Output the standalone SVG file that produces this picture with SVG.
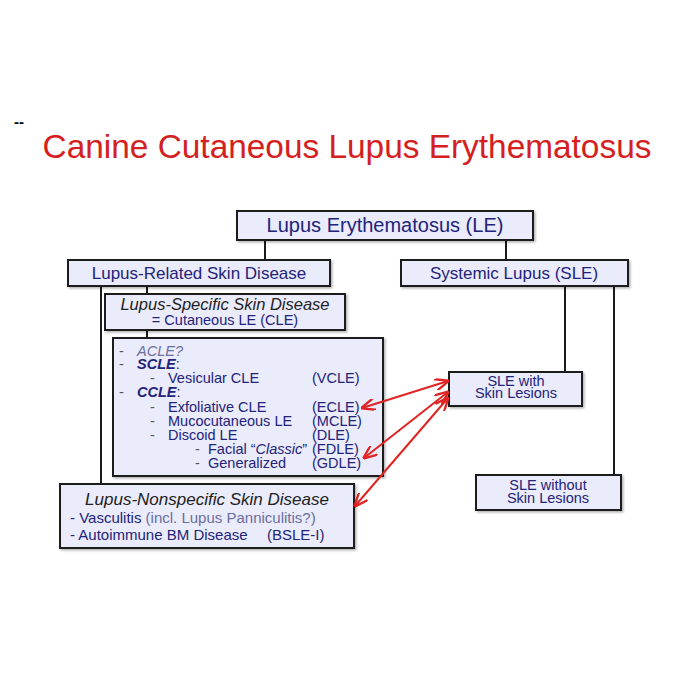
<svg xmlns="http://www.w3.org/2000/svg" width="700" height="700" viewBox="0 0 700 700">
<defs>
<style>
.box{fill:#eaebfb;stroke:#1a1a1a;stroke-width:2;filter:url(#sh)}
.ln{stroke:#1a1a1a;stroke-width:2;fill:none}
.ar{stroke:#e02424;stroke-width:2;fill:none;marker-start:url(#ah);marker-end:url(#ah)}
text{font-family:"Liberation Sans",Arial,sans-serif;fill:#23237a}
.c{text-anchor:middle}
.it{font-style:italic;fill:#222}
.d{fill:#555}
.g{fill:#6a6f9e}
</style>
<filter id="sh" x="-5%" y="-10%" width="115%" height="130%">
<feDropShadow dx="1.5" dy="1.5" stdDeviation="1" flood-color="#000" flood-opacity="0.3"/>
</filter>
<marker id="ah" viewBox="0 0 12 10" refX="11" refY="5" markerWidth="7" markerHeight="6" orient="auto-start-reverse" markerUnits="strokeWidth">
<path d="M0,0 L12,5 L0,10" fill="none" stroke="#e02424" stroke-width="2"/>
</marker>
</defs>
<rect width="700" height="700" fill="#fff"/>
<text x="14" y="127" style="font-size:15px;font-weight:bold;fill:#000">--</text>
<text x="347" y="158" class="c" style="font-size:33.4px;fill:#d42020">Canine Cutaneous Lupus Erythematosus</text>

<g id="tree-lines">
<path class="ln" d="M265,240 V260 M506,240 V260 M101,286 V484 M147,286 V294 M147,330 V338 M565,286 V372 M614,286 V475"/>
</g>

<g id="le">
<rect class="box" x="237" y="211" width="296" height="29"/>
<text x="385" y="232" class="c" style="font-size:20px">Lupus Erythematosus (LE)</text>
</g>
<g id="lrsd">
<rect class="box" x="68" y="260" width="262" height="26"/>
<text x="199" y="279" class="c" style="font-size:17px">Lupus-Related Skin Disease</text>
</g>
<g id="sle">
<rect class="box" x="401" y="260" width="227" height="26"/>
<text x="514" y="279" class="c" style="font-size:17px">Systemic Lupus (SLE)</text>
</g>
<g id="lssd">
<rect class="box" x="105" y="294" width="240" height="36"/>
<text x="225" y="310" class="c it" style="font-size:16.5px">Lupus-Specific Skin Disease</text>
<text x="225" y="325" class="c" style="font-size:14.5px">= Cutaneous LE (CLE)</text>
</g>
<g id="cle-list">
<rect class="box" x="113" y="338" width="270" height="138"/>
<g style="font-size:14.5px">
<text x="119" y="356" class="d">-</text><text x="137" y="356" class="g" font-style="italic">ACLE?</text>
<text x="119" y="369" class="d">-</text><text x="137" y="369" font-style="italic" font-weight="bold">SCLE<tspan font-weight="normal" font-style="normal">:</tspan></text>
<text x="150" y="383" class="d">-</text><text x="168" y="383">Vesicular CLE</text><text x="312" y="383">(VCLE)</text>
<text x="119" y="397" class="d">-</text><text x="137" y="397" font-style="italic" font-weight="bold">CCLE<tspan font-weight="normal" font-style="normal">:</tspan></text>
<text x="150" y="412" class="d">-</text><text x="168" y="412">Exfoliative CLE</text><text x="312" y="412">(ECLE)</text>
<text x="150" y="426" class="d">-</text><text x="168" y="426">Mucocutaneous LE</text><text x="312" y="426">(MCLE)</text>
<text x="150" y="440" class="d">-</text><text x="168" y="440">Discoid LE</text><text x="312" y="440">(DLE)</text>
<text x="195" y="454" class="d">-</text><text x="208" y="454">Facial “<tspan font-style="italic">Classic</tspan>”</text><text x="312" y="454">(FDLE)</text>
<text x="195" y="468" class="d">-</text><text x="208" y="468">Generalized</text><text x="312" y="468">(GDLE)</text>
</g>
</g>
<g id="lnsd">
<rect class="box" x="60" y="484" width="294" height="64"/>
<text x="207" y="505" class="c it" style="font-size:17px">Lupus-Nonspecific Skin Disease</text>
<text x="70" y="523" style="font-size:15px">- Vasculitis <tspan class="g">(incl. Lupus Panniculitis?)</tspan></text>
<text x="70" y="540" style="font-size:15px">- Autoimmune BM Disease</text>
<text x="267" y="540" style="font-size:15px">(BSLE-I)</text>
</g>
<g id="sle-with">
<rect class="box" x="449" y="372" width="133" height="34"/>
<text x="516" y="386" class="c" style="font-size:14.5px">SLE with</text>
<text x="516" y="398" class="c" style="font-size:14.5px">Skin Lesions</text>
</g>
<g id="sle-without">
<rect class="box" x="476" y="475" width="145" height="35"/>
<text x="548" y="490" class="c" style="font-size:14.5px">SLE without</text>
<text x="548" y="503" class="c" style="font-size:14.5px">Skin Lesions</text>
</g>

<g id="connectors">
<path class="ar" d="M362,408 L448,381"/>
<path class="ar" d="M364,458 L448,392"/>
<path class="ar" d="M355,506 L448,398"/>
</g>
</svg>
